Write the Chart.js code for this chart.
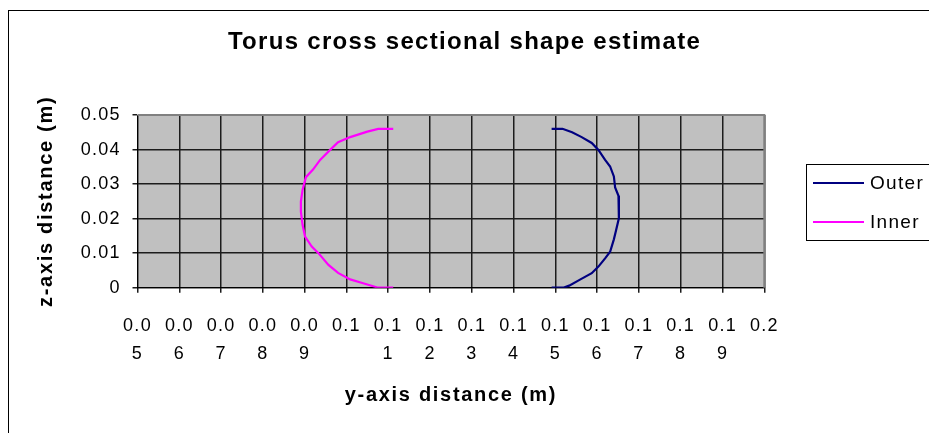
<!DOCTYPE html>
<html>
<head>
<meta charset="utf-8">
<script src="https://cdn.jsdelivr.net/npm/chart.js@4/dist/chart.umd.min.js"></script>
<style>
  html, body { margin: 0; padding: 0; background: #fff; }
  #wrap { position: relative; width: 929px; height: 433px; }
</style>
</head>
<body>
<div id="wrap"><canvas id="c" width="929" height="433"></canvas></div>
<script>
// ---- chart data ----
const TITLE = 'Torus cross sectional shape estimate';
const X_TITLE = 'y-axis distance (m)';
const Y_TITLE = 'z-axis distance (m)';
const SERIES_NAMES = ['Outer', 'Inner'];
const SERIES_COLORS = ['#000080', '#FF00FF'];

const outerX = [0.1491, 0.1517, 0.1540, 0.1563, 0.1587, 0.1603, 0.1619, 0.1631, 0.1640, 0.1643, 0.1651,
                0.1652, 0.1645, 0.1640, 0.1631, 0.1619, 0.1603, 0.1587, 0.1560, 0.1533, 0.1519, 0.1491];
const outerY = [0.0460, 0.0460, 0.0450, 0.0436, 0.0419, 0.0399, 0.0370, 0.0351, 0.0322, 0.0290, 0.0266,
                0.0201, 0.0165, 0.0140, 0.0104, 0.0085, 0.0061, 0.0042, 0.0024, 0.0006, 0.0000, 0.0000];

const innerX = [0.1112, 0.1076, 0.1050, 0.1009, 0.0980, 0.0961, 0.0937, 0.0920, 0.0903, 0.0895, 0.0891,
                0.0891, 0.0895, 0.0901, 0.0917, 0.0933, 0.0957, 0.0980, 0.1009, 0.1040, 0.1076, 0.1112];
const innerY = [0.0460, 0.0460, 0.0452, 0.0436, 0.0421, 0.0399, 0.0370, 0.0342, 0.0320, 0.0283, 0.0249,
                0.0220, 0.0182, 0.0148, 0.0119, 0.0100, 0.0066, 0.0043, 0.0024, 0.0013, 0.0000, 0.0000];

const X_TICKS = [0.05, 0.06, 0.07, 0.08, 0.09, 0.10, 0.11, 0.12, 0.13, 0.14, 0.15, 0.16, 0.17, 0.18, 0.19, 0.20];
const X_TICK_LABELS = [
  ['0.0', '5'], ['0.0', '6'], ['0.0', '7'], ['0.0', '8'], ['0.0', '9'], ['0.1', ''],
  ['0.1', '1'], ['0.1', '2'], ['0.1', '3'], ['0.1', '4'], ['0.1', '5'], ['0.1', '6'],
  ['0.1', '7'], ['0.1', '8'], ['0.1', '9'], ['0.2', '']
];
const Y_TICKS = [0, 0.01, 0.02, 0.03, 0.04, 0.05];
const Y_TICK_LABELS = ['0', '0.01', '0.02', '0.03', '0.04', '0.05'];

// ---- text look: slightly open-set Arial style lettering ----
const FAMILY = '"Liberation Sans", Arial, sans-serif';
const LETTER_SPACING = { b24: 1.3, b20: 1.7, n19: 1.3, n18: 1.25 };
function spacingFor(font) {
  const m = /(\d+(?:\.\d+)?)px/.exec(font || '');
  const px = m ? Math.round(parseFloat(m[1])) : 12;
  const key = (/bold|700/.test(font) ? 'b' : 'n') + px;
  return LETTER_SPACING[key] || 0;
}
['fillText', 'strokeText', 'measureText'].forEach(name => {
  const orig = CanvasRenderingContext2D.prototype[name];
  CanvasRenderingContext2D.prototype[name] = function (...args) {
    if ('letterSpacing' in this) this.letterSpacing = spacingFor(this.font) + 'px';
    return orig.apply(this, args);
  };
});

const pair = (xs, ys) => xs.map((x, i) => ({ x, y: ys[i] }));

// ---- plot furniture ----
const plotFrame = {
  id: 'plotFrame',
  beforeDraw(chart) {
    const { ctx, chartArea: a } = chart;
    ctx.save();
    ctx.fillStyle = '#fff';
    ctx.fillRect(0, 0, chart.width, chart.height);
    ctx.strokeStyle = '#000';
    ctx.lineWidth = 1;
    ctx.strokeRect(8.5, 10.5, 1000, 1000);
    ctx.fillStyle = '#C0C0C0';
    ctx.fillRect(a.left, a.top, a.right - a.left, a.bottom - a.top);
    ctx.restore();
  },
  beforeDatasetsDraw(chart) {
    const { ctx, chartArea: a } = chart;
    ctx.save();
    ctx.strokeStyle = '#808080';
    ctx.lineWidth = 2;
    ctx.beginPath();
    ctx.moveTo(a.left, a.top);
    ctx.lineTo(a.right, a.top);
    ctx.lineTo(a.right, a.bottom);
    ctx.stroke();
    ctx.restore();
  }
};

const sideLegend = {
  id: 'sideLegend',
  afterDraw(chart) {
    const { ctx } = chart;
    ctx.save();
    ctx.strokeStyle = '#000';
    ctx.lineWidth = 1;
    ctx.strokeRect(806.5, 164.5, 160, 76);
    ctx.font = '19px ' + FAMILY;
    ctx.textBaseline = 'middle';
    ctx.textAlign = 'left';
    chart.data.datasets.forEach((ds, i) => {
      const y = 183 + i * 39;
      ctx.strokeStyle = ds.borderColor;
      ctx.lineWidth = 2;
      ctx.beginPath();
      ctx.moveTo(813, y);
      ctx.lineTo(864, y);
      ctx.stroke();
      ctx.fillStyle = '#000';
      ctx.fillText(ds.label, 870, y + 1);
    });
    ctx.restore();
  }
};

const gridStyle = { color: '#1c1c1c', lineWidth: 1.5, tickLength: 5, drawTicks: true };

new Chart(document.getElementById('c'), {
  type: 'scatter',
  data: {
    datasets: [
      { label: SERIES_NAMES[0], data: pair(outerX, outerY), borderColor: SERIES_COLORS[0], backgroundColor: SERIES_COLORS[0] },
      { label: SERIES_NAMES[1], data: pair(innerX, innerY), borderColor: SERIES_COLORS[1], backgroundColor: SERIES_COLORS[1] }
    ].map(d => Object.assign(d, { showLine: true, borderWidth: 2.2, pointRadius: 0, pointHoverRadius: 0, tension: 0, xAxisID: 'x', yAxisID: 'y' }))
  },
  options: {
    responsive: false,
    animation: false,
    devicePixelRatio: 1,
    events: [],
    layout: { padding: 0 },
    plugins: {
      legend: { display: false },
      tooltip: { enabled: false },
      title: {
        display: true,
        text: TITLE,
        color: '#000',
        font: { family: FAMILY, size: 24, weight: 'bold', lineHeight: 1.2 },
        padding: { top: 27.6, bottom: 58.6 }
      }
    },
    scales: {
      x: {
        type: 'linear',
        position: 'bottom',
        min: 0.05,
        max: 0.2,
        afterBuildTicks: s => { s.ticks = X_TICKS.map(v => ({ value: v })); },
        afterFit: s => { s.height = 145.3; },
        ticks: {
          callback: (v, i) => X_TICK_LABELS[i],
          color: '#000',
          font: { family: FAMILY, size: 18, lineHeight: 1.556 },
          padding: 19,
          maxRotation: 0,
          autoSkip: false
        },
        grid: gridStyle,
        border: { color: '#000', width: 1 },
        title: {
          display: true,
          text: X_TITLE,
          color: '#000',
          font: { family: FAMILY, size: 20, weight: 'bold', lineHeight: 1.2 },
          padding: { top: 0, bottom: 26 }
        }
      },
      y: {
        type: 'linear',
        position: 'left',
        min: 0,
        max: 0.05,
        afterBuildTicks: s => { s.ticks = Y_TICKS.map(v => ({ value: v })); },
        afterFit: s => { s.width = 137.5; },
        ticks: {
          callback: (v, i) => Y_TICK_LABELS[i],
          color: '#000',
          font: { family: FAMILY, size: 18 },
          padding: 11.8
        },
        grid: gridStyle,
        border: { color: '#000', width: 1 },
        title: {
          display: true,
          text: Y_TITLE,
          color: '#000',
          font: { family: FAMILY, size: 20, weight: 'bold', lineHeight: 1.2 },
          padding: { top: 34, bottom: 0 }
        }
      },
      // empty strip on the right that holds the legend
      legendStrip: {
        type: 'linear',
        position: 'right',
        min: 0,
        max: 1,
        afterFit: s => { s.width = 164.7; },
        grid: { display: false, drawTicks: false },
        border: { display: false },
        ticks: { display: false }
      }
    }
  },
  plugins: [plotFrame, sideLegend]
});
</script>
</body>
</html>
